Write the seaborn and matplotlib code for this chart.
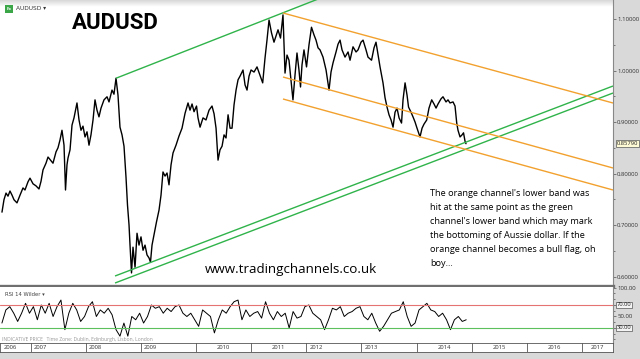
import numpy as np
import pandas as pd
import matplotlib
matplotlib.use("Agg")
import matplotlib.pyplot as plt
import matplotlib.transforms as mtransforms
import seaborn as sns

# ---------------- data ----------------
price_dates = [
    2006.481, 2006.517, 2006.554, 2006.590, 2006.626, 2006.663, 2006.699, 2006.753, 2006.808, 2006.862,
    2006.898, 2006.953, 2006.989, 2007.044, 2007.098, 2007.152, 2007.189, 2007.225, 2007.279, 2007.316,
    2007.370, 2007.406, 2007.461, 2007.497, 2007.533, 2007.569, 2007.606, 2007.633, 2007.660, 2007.678,
    2007.715, 2007.751, 2007.787, 2007.841, 2007.878, 2007.914, 2007.950, 2007.987, 2008.023, 2008.059,
    2008.095, 2008.132, 2008.168, 2008.204, 2008.240, 2008.277, 2008.331, 2008.386, 2008.422, 2008.476,
    2008.512, 2008.549, 2008.585, 2008.621, 2008.658, 2008.694, 2008.730, 2008.757, 2008.785, 2008.803,
    2008.830, 2008.857, 2008.894, 2008.930, 2008.966, 2009.002, 2009.039, 2009.075, 2009.111, 2009.148,
    2009.174, 2009.202, 2009.238, 2009.283, 2009.329, 2009.365, 2009.401, 2009.438, 2009.474, 2009.510,
    2009.547, 2009.583, 2009.637, 2009.692, 2009.746, 2009.801, 2009.855, 2009.891, 2009.928, 2009.964,
    2010.009, 2010.036, 2010.073, 2010.127, 2010.181, 2010.236, 2010.290, 2010.327, 2010.363, 2010.399,
    2010.435, 2010.472, 2010.508, 2010.544, 2010.581, 2010.617, 2010.653, 2010.689, 2010.726, 2010.762,
    2010.798, 2010.852, 2010.889, 2010.925, 2010.961, 2010.998, 2011.052, 2011.106, 2011.160, 2011.209,
    2011.251, 2011.287, 2011.324, 2011.369, 2011.414, 2011.451, 2011.487, 2011.532, 2011.577, 2011.595,
    2011.614, 2011.650, 2011.686, 2011.722, 2011.758, 2011.795, 2011.831, 2011.867, 2011.895, 2011.922,
    2011.958, 2012.004, 2012.049, 2012.094, 2012.140, 2012.176, 2012.213, 2012.249, 2012.303, 2012.358,
    2012.412, 2012.448, 2012.485, 2012.539, 2012.575, 2012.612, 2012.648, 2012.702, 2012.757, 2012.793,
    2012.847, 2012.902, 2012.938, 2012.992, 2013.029, 2013.083, 2013.119, 2013.183, 2013.228, 2013.264,
    2013.301, 2013.337, 2013.391, 2013.428, 2013.464, 2013.500, 2013.537, 2013.573, 2013.609, 2013.645,
    2013.682, 2013.727, 2013.754, 2013.791, 2013.827, 2013.854, 2013.899, 2013.935, 2013.972, 2014.008,
    2014.062, 2014.099, 2014.135, 2014.184, 2014.225, 2014.274, 2014.316, 2014.353, 2014.389, 2014.443,
    2014.479, 2014.534, 2014.570, 2014.606, 2014.661, 2014.697, 2014.728, 2014.751, 2014.788, 2014.824,
    2014.851, 2014.878, 2014.896,
]
price_values = [
    0.725, 0.749, 0.762, 0.756, 0.766, 0.758, 0.749, 0.743, 0.758, 0.772,
    0.768, 0.784, 0.791, 0.780, 0.776, 0.770, 0.785, 0.807, 0.820, 0.832,
    0.825, 0.820, 0.842, 0.850, 0.865, 0.884, 0.855, 0.768, 0.817, 0.830,
    0.846, 0.894, 0.908, 0.937, 0.904, 0.884, 0.892, 0.871, 0.881, 0.855,
    0.875, 0.904, 0.943, 0.923, 0.910, 0.927, 0.943, 0.949, 0.939, 0.962,
    0.954, 0.985, 0.952, 0.890, 0.875, 0.853, 0.793, 0.739, 0.700, 0.661,
    0.607, 0.657, 0.618, 0.684, 0.661, 0.677, 0.651, 0.661, 0.642, 0.636,
    0.628, 0.661, 0.681, 0.706, 0.729, 0.758, 0.803, 0.795, 0.801, 0.778,
    0.817, 0.840, 0.855, 0.873, 0.888, 0.917, 0.937, 0.923, 0.935, 0.920,
    0.931, 0.908, 0.890, 0.908, 0.904, 0.923, 0.931, 0.916, 0.888, 0.826,
    0.846, 0.853, 0.875, 0.869, 0.914, 0.888, 0.888, 0.933, 0.962, 0.982,
    0.989, 1.001, 0.972, 0.962, 0.989, 1.001, 0.997, 1.007, 0.991, 0.976,
    1.024, 1.059, 1.098, 1.073, 1.055, 1.067, 1.079, 1.063, 1.108, 1.053,
    0.995, 1.030, 1.020, 0.982, 0.943, 0.991, 1.034, 1.001, 0.968, 1.011,
    1.040, 1.007, 1.050, 1.084, 1.069, 1.059, 1.044, 1.040, 1.026, 1.001,
    0.962, 0.997, 1.015, 1.036, 1.051, 1.059, 1.040, 1.026, 1.036, 1.020,
    1.046, 1.036, 1.040, 1.055, 1.059, 1.040, 1.026, 1.020, 1.044, 1.055,
    1.030, 1.007, 0.976, 0.947, 0.929, 0.914, 0.904, 0.890, 0.919, 0.927,
    0.908, 0.898, 0.943, 0.976, 0.952, 0.929, 0.919, 0.910, 0.900, 0.888,
    0.871, 0.888, 0.896, 0.904, 0.927, 0.943, 0.935, 0.927, 0.935, 0.945,
    0.949, 0.939, 0.943, 0.937, 0.939, 0.931, 0.898, 0.884, 0.871, 0.875,
    0.879, 0.863, 0.8579,
]
last_price = 0.85790

rsi_values = [
    38.6, 61.4, 67.1, 55.7, 41.4, 55.7, 72.9, 55.7, 67.1, 44.3,
    70.0, 55.7, 72.9, 50.0, 67.1, 78.6, 27.1, 55.7, 72.9, 61.4,
    41.4, 50.0, 67.1, 75.7, 50.0, 61.4, 55.7, 64.3, 52.9, 27.1,
    15.8, 38.6, 15.8, 50.0, 44.3, 55.7, 38.6, 50.0, 70.0, 64.3,
    67.1, 55.7, 64.3, 58.6, 67.1, 70.0, 55.7, 50.0, 55.7, 44.3,
    32.9, 61.4, 55.7, 50.0, 21.5, 44.3, 61.4, 55.7, 67.1, 75.7,
    78.6, 44.3, 61.4, 50.0, 55.7, 58.6, 47.2, 75.7, 55.7, 44.3,
    58.6, 50.0, 55.7, 30.0, 58.6, 47.2, 50.0, 67.1, 70.0, 55.7,
    50.0, 44.3, 27.1, 44.3, 64.3, 61.4, 67.1, 50.0, 55.7, 58.6,
    64.3, 67.1, 50.0, 44.3, 55.7, 38.6, 24.3, 32.9, 44.3, 55.7,
    58.6, 61.4, 75.7, 50.0, 32.9, 38.6, 61.4, 67.1, 72.9, 61.4,
    58.6, 50.0, 55.7, 44.3, 27.1, 44.3, 50.0, 41.4, 44.3,
]
rsi_start, rsi_end = 2006.48, 2014.90
rsi_levels = [70, 30]

price_ticks = [0.6, 0.7, 0.8, 0.9, 1.0, 1.1]
rsi_ticks = [100, 70, 50, 30]
years = list(range(2006, 2018))

# channel lines: (year, price) endpoints
green_upper = [(2008.549, 0.985), (2012.60, 1.155)]
green_low_a = [(2008.531, 0.6010), (2017.562, 0.9699)]
green_low_b = [(2008.531, 0.5874), (2017.562, 0.9563)]
orange_top = [(2011.577, 1.1117), (2017.562, 0.9369)]
orange_mid = [(2011.577, 0.9874), (2017.562, 0.8107)]
orange_low = [(2011.577, 0.9447), (2017.562, 0.7680)]

note = ("The orange channel's lower band was\n"
        "hit at the same point as the green\n"
        "channel's lower band which may mark\n"
        "the bottoming of Aussie dollar. If the\n"
        "orange channel becomes a bull flag, oh\n"
        "boy...")

# ---------------- figure ----------------
sns.set_style("white")
plt.rcParams['font.family'] = ['Open Sans', 'DejaVu Sans']

W, H = 640, 359
fig = plt.figure(figsize=(6.4, 3.59), dpi=100, facecolor='#d9d9d9')
XMIN, XMAX = 2006.445, 2017.562
PW = 613 / W

def fbox(top_px, bot_px):
    return [0, 1 - bot_px / H, PW, (bot_px - top_px) / H]

ax = fig.add_axes(fbox(0, 286))
ax_r = fig.add_axes(fbox(287, 343))
ax_d = fig.add_axes(fbox(343, 352))
for a in (ax, ax_r, ax_d):
    a.set_facecolor('white')

GREEN = '#2fb34a'
ORANGE = '#f2a12e'

df = pd.DataFrame({'date': price_dates, 'price': price_values})
sns.lineplot(data=df, x='date', y='price', ax=ax, color='black', lw=1.0, sort=False)

for seg, col in [(green_upper, GREEN), (green_low_a, GREEN), (green_low_b, GREEN),
                 (orange_top, ORANGE), (orange_mid, ORANGE), (orange_low, ORANGE)]:
    xs, ys = zip(*seg)
    ax.plot(xs, ys, color=col, lw=1.0, solid_capstyle='butt')

# top gradient band
grad = np.linspace(0.82, 1.0, 30).reshape(-1, 1)
ax.imshow(grad, cmap='gray', vmin=0, vmax=1, aspect='auto',
          extent=(0, 1, 0.975, 1.0), transform=ax.transAxes, zorder=0)

ax.set_xlim(XMIN, XMAX)
ax.set_ylim(0.5816, 1.1369)
ax.set_xlabel('')
ax.set_ylabel('')
ax.set_xticks([])
ax.yaxis.tick_right()
ax.set_yticks(price_ticks)
ax.set_yticklabels([f"{v:.5f}" for v in price_ticks])
ax.set_yticks([0.65, 0.75, 0.85, 0.95, 1.05], minor=True)
ax.tick_params(axis='y', which='both', direction='out', length=2, width=0.6,
               labelsize=4.3, labelcolor='#333333', color='#666666', pad=1)
ax.tick_params(axis='y', which='minor', length=1.5)
for s in ('top', 'left'):
    ax.spines[s].set_visible(False)
ax.spines['right'].set_color('#888888')
ax.spines['right'].set_linewidth(0.8)
ax.spines['bottom'].set_color('#6f6f6f')
ax.spines['bottom'].set_linewidth(2.4)

# last price box
tr = mtransforms.blended_transform_factory(ax.transAxes, ax.transData)
ax.text(1.006, last_price, f"{last_price:.5f}", transform=tr, fontsize=4.2,
        va='center', ha='left', color='#222222',
        bbox=dict(boxstyle='square,pad=0.15', fc='#fffbd5', ec='#555555', lw=0.5))

# titles and texts
fig.patches.append(plt.Rectangle((5 / W, 1 - 13 / H), 8 / W, 8 / H,
                                 transform=fig.transFigure, fc='#3aa648', ec='none'))
fig.text(9 / W, 1 - 9.3 / H, 'Fx', fontsize=3.2, color='white', ha='center', va='center',
         fontweight='bold')
fig.text(16 / W, 1 - 9 / H, 'AUDUSD \u25be', fontsize=4.2, color='#333333', va='center',
         family=['DejaVu Sans'])
fig.text(72 / W, 1 - 23 / H, 'AUDUSD', fontsize=16, fontweight='bold', color='black',
         va='center', ha='left', family=['Roboto', 'DejaVu Sans'])
fig.text(205 / W, 1 - 269 / H, 'www.tradingchannels.co.uk', fontsize=9.6, color='black',
         va='center', ha='left')
fig.text(430 / W, 1 - 189 / H, note, fontsize=6.6, color='black', va='top', ha='left',
         linespacing=1.72)

# ---------------- RSI panel ----------------
rsi_dates = np.linspace(rsi_start, rsi_end, len(rsi_values))
dr = pd.DataFrame({'date': rsi_dates, 'rsi': rsi_values})
sns.lineplot(data=dr, x='date', y='rsi', ax=ax_r, color='black', lw=0.7, sort=False)
ax_r.axhline(rsi_levels[0], color='#e57373', lw=0.8)
ax_r.axhline(rsi_levels[1], color='#5cc05c', lw=0.8)
ax_r.set_xlim(XMIN, XMAX)
ax_r.set_ylim(3.9, 101.3)
ax_r.set_xlabel('')
ax_r.set_ylabel('')
ax_r.set_xticks([])
ax_r.yaxis.tick_right()
ax_r.set_yticks(rsi_ticks)
ax_r.set_yticklabels(['100.00', '', '50.00', ''])
ax_r.set_yticks([10, 20, 40, 60, 80, 90], minor=True)
ax_r.tick_params(axis='y', which='both', direction='out', length=2, width=0.6,
                 labelsize=4.3, labelcolor='#333333', color='#666666', pad=1)
ax_r.tick_params(axis='y', which='minor', length=1.2)
for s in ('top', 'left', 'bottom'):
    ax_r.spines[s].set_visible(False)
ax_r.spines['right'].set_color('#888888')
ax_r.spines['right'].set_linewidth(0.8)
trr = mtransforms.blended_transform_factory(ax_r.transAxes, ax_r.transData)
for lv in rsi_levels:
    ax_r.text(1.006, lv, f"{lv:.2f}", transform=trr, fontsize=4.2, va='center', ha='left',
              color='#222222',
              bbox=dict(boxstyle='square,pad=0.15', fc='#f4f4f4', ec='#555555', lw=0.5))
ax_r.text(0.008, 0.86, 'RSI 14 Wilder \u25be', transform=ax_r.transAxes, fontsize=3.8,
          color='#444444', va='center', family=['DejaVu Sans'])
ax_r.text(0.003, 0.06, 'INDICATIVE PRICE   Time Zone: Dublin, Edinburgh, Lisbon, London',
          transform=ax_r.transAxes, fontsize=3.6, color='#999999', va='center')

# ---------------- date strip ----------------
ax_d.set_xlim(XMIN, XMAX)
ax_d.set_ylim(0, 1)
ax_d.set_xticks([])
ax_d.set_yticks([])
for y in years[1:]:
    ax_d.axvline(y, color='#555555', lw=0.6)
centered = {2010, 2011, 2014, 2015, 2016, 2017}
for y in years:
    if y in centered:
        xm = (y + XMAX) / 2 if y == 2017 else y + 0.5
        ax_d.text(xm, 0.5, str(y), fontsize=4.2, ha='center', va='center', color='#333333')
    else:
        ax_d.text(max(y, XMIN) + 0.06, 0.5, str(y), fontsize=4.2, ha='left', va='center',
                  color='#333333')
for s in ax_d.spines.values():
    s.set_color('#555555')
    s.set_linewidth(0.6)

fig.savefig('out.png', dpi=100, facecolor=fig.get_facecolor())
